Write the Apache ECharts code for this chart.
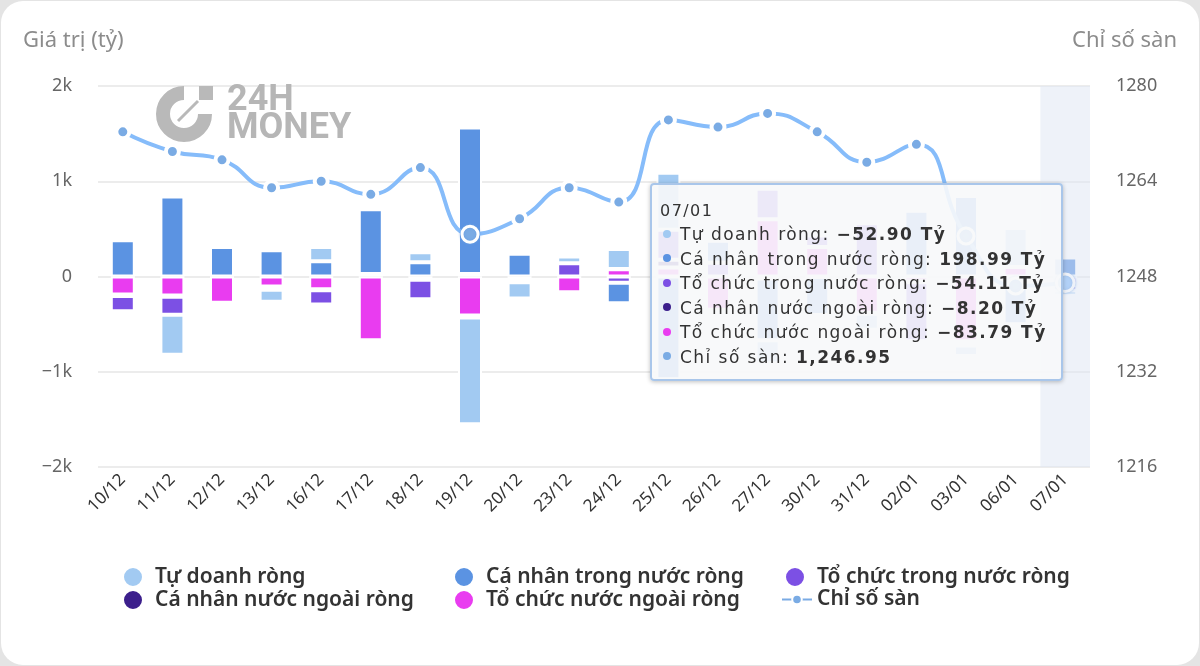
<!DOCTYPE html>
<html>
<head>
<meta charset="utf-8">
<script src="https://cdn.jsdelivr.net/npm/echarts@6/dist/echarts.min.js"></script>
<style>
html, body { margin: 0; padding: 0; background: #e4e4e4; }
.card { position: absolute; left: 1px; top: 1px; width: 1198px; height: 664px; background: #fff; border-radius: 22px; }
#chart { position: absolute; left: 0; top: 0; width: 1200px; height: 666px; }
</style>
</head>
<body>
<div class="card"></div>
<div id="chart"></div>
<script>
// ngày giao dịch
const dates = ['10/12','11/12','12/12','13/12','16/12','17/12','18/12','19/12','20/12','23/12',
               '24/12','25/12','26/12','27/12','30/12','31/12','02/01','03/01','06/01','07/01']
// giá trị mua/bán ròng (tỷ)
const tuDoanh  = [0, -420, 0, -125, 150, 0, 105, -1120, -170, 70, 210, 600, -10, -240, -20, -170, 0, -110, 410, -52.90]
const caNhanTN = [380, 840, 310, 275, 160, 680, 150, 1540, 240, -15, -215, -1080, 230, -650, -400, 0, 690, 845, -450, 198.99]
const toChucTN = [-160, -190, -10, 0, -150, 25, -205, 25, -25, 140, -65, 315, 145, 320, 120, 560, -620, -30, -40, -54.11]
const caNhanNN = [-15, -12, -5, -35, -10, -10, -10, -20, -5, -15, 5, 80, -5, -20, -5, -10, -10, -15, -10, -8.20]
const toChucNN = [-190, -200, -275, -105, -135, -670, -25, -410, -30, -165, 75, 95, -350, 600, 310, -380, -50, -680, 100, -83.79]
// chỉ số sàn
const chiSo = [1272.3, 1269.0, 1267.6, 1262.9, 1264.0, 1261.8, 1266.3, 1255.1, 1257.7, 1262.9,
               1260.5, 1274.3, 1273.1, 1275.4, 1272.3, 1267.2, 1270.2, 1254.8, 1246.4, 1246.95]
// các điểm được đánh dấu vòng trắng
const ringIdx = [7, 17, 18, 19]

const barNames  = ['Tự doanh ròng', 'Cá nhân trong nước ròng', 'Tổ chức trong nước ròng', 'Cá nhân nước ngoài ròng', 'Tổ chức nước ngoài ròng']
const barData   = [tuDoanh, caNhanTN, toChucTN, caNhanNN, toChucNN]
const barColors = ['#a2caf2', '#5b93e2', '#7c50e4', '#3c1f8c', '#e93cf0']
const lineName  = 'Chỉ số sàn'
const lineColor = '#7aabe4'

const chart = echarts.init(document.getElementById('chart'))

const fmt = v => (v < 0 ? '−' : '') + Math.abs(v).toFixed(2)
const dot = c => '<span style="display:inline-block;width:8px;height:8px;border-radius:50%;background:' + c + ';margin:0 9px 3px 3px;vertical-align:middle"></span>'

// cột xếp chồng: thứ tự từ trục 0 ra ngoài là ngược lại so với chú thích
const barSeries = barNames.map((name, k) => ({
    name: name,
    type: 'bar',
    stack: 'net',
    barWidth: 24,
    data: barData[k],
    itemStyle: { color: barColors[k], borderColor: '#fff', borderWidth: 2 },
    emphasis: { disabled: true }
})).reverse()

const lineSeries = {
    name: lineName,
    type: 'line',
    yAxisIndex: 1,
    smooth: true,
    symbol: 'circle',
    symbolSize: 13,
    data: chiSo.map((v, i) => ringIdx.includes(i) ? {
        value: v,
        symbolSize: 16,
        itemStyle: { color: lineColor, borderColor: '#fff', borderWidth: 3, shadowColor: '#6a9fe0', shadowBlur: 3 }
    } : v),
    lineStyle: { color: lineColor, width: 4 },
    itemStyle: { color: lineColor, borderColor: '#fff', borderWidth: 4 },
    z: 5
}

// chú thích: 2 hàng x 3 cột
const legendNames = barNames.concat([lineName])
const legends = legendNames.map((name, i) => {
    const isLine = name === lineName
    return {
        data: [{ name: name, icon: isLine ? undefined : 'circle' }],
        left: isLine ? 776 : 117 + (i % 3) * 331,
        top: i < 3 ? 561 : 584,
        padding: 5,
        itemWidth: isLine ? 30 : 34,
        itemHeight: isLine ? 12 : 20,
        selectedMode: false,
        textStyle: { fontFamily: 'Noto Sans', fontSize: 21, fontWeight: 600, color: '#333' }
    }
})

const option = {
    animation: false,
    textStyle: { fontFamily: 'Noto Sans' },
    grid: { left: 98, right: 110, top: 86, bottom: 199, containLabel: false, outerBoundsMode: 'none' },
    legend: legends,
    tooltip: {
        trigger: 'axis',
        alwaysShowContent: true,
        axisPointer: { type: 'shadow', shadowStyle: { color: 'rgba(222,229,243,0.5)' } },
        position: [650, 183],
        backgroundColor: 'rgba(247,248,250,0.91)',
        borderColor: '#a9c6ea',
        borderWidth: 2,
        padding: [15, 14, 10, 8],
        textStyle: { fontFamily: 'DejaVu Sans', fontSize: 17, color: '#333' },
        extraCssText: 'box-shadow:0 1px 4px rgba(0,0,0,0.25);border-radius:4px;letter-spacing:1.45px;line-height:24.5px;',
        formatter: function (params) {
            const i = params[0].dataIndex
            let s = '<div style="font-size:16px;line-height:22px">' + dates[i] + '</div>'
            barNames.forEach((name, k) => {
                s += '<div>' + dot(barColors[k]) + name + ': <b>' + fmt(barData[k][i]) + ' Tỷ</b></div>'
            })
            s += '<div>' + dot(lineColor) + lineName + ': <b>' +
                chiSo[i].toLocaleString('en-US', { minimumFractionDigits: 2, maximumFractionDigits: 2 }) + '</b></div>'
            return s
        }
    },
    xAxis: {
        type: 'category',
        data: dates,
        axisLine: { show: false },
        axisTick: { show: false },
        axisLabel: { rotate: 45, interval: 0, fontSize: 17, color: '#333', margin: 10 }
    },
    yAxis: [
        {
            type: 'value',
            min: -2000,
            max: 2000,
            interval: 1000,
            axisLabel: {
                fontSize: 18,
                color: '#666',
                margin: 26,
                formatter: v => v === 0 ? '0' : (v < 0 ? '−' : '') + Math.abs(v) / 1000 + 'k'
            },
            splitLine: { lineStyle: { color: '#e6e6e6', width: 1.5 } }
        },
        {
            type: 'value',
            min: 1216,
            max: 1280,
            interval: 16,
            axisLabel: { fontSize: 18, color: '#666', margin: 26, formatter: v => String(v) },
            splitLine: { show: false }
        }
    ],
    graphic: [
        { type: 'text', left: 23, top: 30, style: { text: 'Giá trị (tỷ)', fontFamily: 'Noto Sans', fontSize: 22, fill: '#8c8c8c' } },
        { type: 'text', right: 23, top: 30, style: { text: 'Chỉ số sàn', fontFamily: 'Noto Sans', fontSize: 22, fill: '#8c8c8c' } },
        // logo 24H MONEY mờ
        { type: 'arc', z: 1, shape: { cx: 184, cy: 114, r: 21, startAngle: 0, endAngle: Math.PI * 1.5, clockwise: true },
          style: { stroke: '#b9b9b9', lineWidth: 14, fill: null } },
        { type: 'rect', z: 1, shape: { x: 199, y: 86, width: 14, height: 14 }, style: { fill: '#b9b9b9' } },
        { type: 'line', z: 1, shape: { x1: 178, y1: 121, x2: 198, y2: 101 }, style: { stroke: '#b9b9b9', lineWidth: 3 } },
        { type: 'text', z: 1, x: 227, y: 101, style: { text: '24H', font: 'bold 36px Roboto', fill: '#b6b6b6', verticalAlign: 'middle' } },
        { type: 'text', z: 1, x: 227, y: 129, style: { text: 'MONEY', font: 'bold 36px Roboto', fill: '#b6b6b6', verticalAlign: 'middle' } }
    ],
    series: barSeries.concat([lineSeries])
}

chart.setOption(option)
chart.dispatchAction({ type: 'showTip', seriesIndex: 5, dataIndex: 19 })
</script>
</body>
</html>
